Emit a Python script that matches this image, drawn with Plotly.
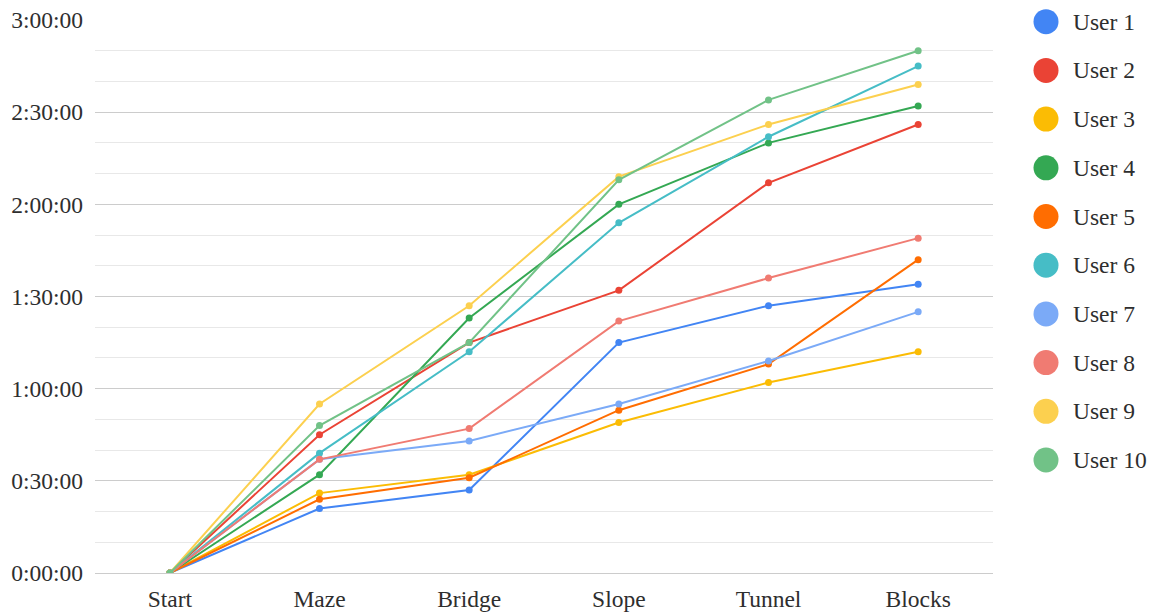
import plotly.graph_objects as go

# Stages of the course and cumulative elapsed time (minutes) per user
stages = ["Start", "Maze", "Bridge", "Slope", "Tunnel", "Blocks"]

user_1 = [0, 21, 27, 75, 87, 94]
user_2 = [0, 45, 75, 92, 127, 146]
user_3 = [0, 26, 32, 49, 62, 72]
user_4 = [0, 32, 83, 120, 140, 152]
user_5 = [0, 24, 31, 53, 68, 102]
user_6 = [0, 39, 72, 114, 142, 165]
user_7 = [0, 37, 43, 55, 69, 85]
user_8 = [0, 37, 47, 82, 96, 109]
user_9 = [0, 55, 87, 129, 146, 159]
user_10 = [0, 48, 75, 128, 154, 170]

names = ["User 1", "User 2", "User 3", "User 4", "User 5",
         "User 6", "User 7", "User 8", "User 9", "User 10"]
series = [user_1, user_2, user_3, user_4, user_5,
          user_6, user_7, user_8, user_9, user_10]
colors = ["#4285F4", "#EA4335", "#FBBC04", "#34A853", "#FF6D01",
          "#46BDC6", "#7BAAF7", "#F07B72", "#FCD04F", "#71C287"]

tick_vals = [0, 30, 60, 90, 120, 150, 180]
tick_text = ["0:00:00", "0:30:00", "1:00:00", "1:30:00",
             "2:00:00", "2:30:00", "3:00:00"]

FONT = "Liberation Serif, Times New Roman, serif"
FONT_SIZE = 23.5
TEXT_COLOR = "#2E2E2E"

W, H = 1158, 613
L, R, T, B = 95, 165, 20, 40
plot_w = W - L - R
plot_h = H - T - B

fig = go.Figure()
for name, vals, col in zip(names, series, colors):
    fig.add_trace(go.Scatter(
        x=stages, y=vals, name=name, mode="lines+markers",
        line=dict(color=col, width=2),
        marker=dict(color=col, size=7),
        showlegend=False,
    ))

# Legend: large dots with labels on the right side
leg_x_px = 1046
leg_text_px = 1071
leg_top_px = 21.7
leg_step_px = 48.7
shapes = []
annotations = []
for i, (name, col) in enumerate(zip(names, colors)):
    cy_px = leg_top_px + i * leg_step_px
    xp = (leg_x_px - L) / plot_w
    yp = 1 - (cy_px - T) / plot_h
    shapes.append(dict(
        type="circle", xref="paper", yref="paper",
        xsizemode="pixel", ysizemode="pixel",
        xanchor=xp, yanchor=yp,
        x0=-12.5, x1=12.5, y0=-12.5, y1=12.5,
        fillcolor=col, line=dict(width=0),
    ))
    annotations.append(dict(
        text=name, xref="paper", yref="paper",
        x=(leg_text_px - L) / plot_w, y=yp,
        xanchor="left", yanchor="middle", showarrow=False,
        font=dict(family=FONT, size=FONT_SIZE, color=TEXT_COLOR),
    ))

fig.update_layout(
    width=W, height=H,
    margin=dict(l=L, r=R, t=T, b=B, autoexpand=False),
    paper_bgcolor="white", plot_bgcolor="white",
    font=dict(family=FONT, size=FONT_SIZE, color=TEXT_COLOR),
    shapes=shapes, annotations=annotations,
    showlegend=False,
)
fig.update_xaxes(
    type="category", range=[-0.5, 5.5], automargin=False,
    showgrid=False, zeroline=False, showline=False, ticks="",
    ticklabelstandoff=9,
    tickfont=dict(family=FONT, size=FONT_SIZE, color=TEXT_COLOR),
)
fig.update_yaxes(
    range=[0, 180], tickvals=tick_vals, ticktext=tick_text, automargin=False,
    showgrid=True, gridcolor="#CCCCCC", gridwidth=1,
    zeroline=True, zerolinecolor="#CCCCCC", zerolinewidth=1,
    showline=False, ticks="",
    ticklabelstandoff=11,
    minor=dict(dtick=10, showgrid=True, gridcolor="#E8E8E8", gridwidth=1),
    tickfont=dict(family=FONT, size=FONT_SIZE, color=TEXT_COLOR),
)

fig.write_html("out.html")
